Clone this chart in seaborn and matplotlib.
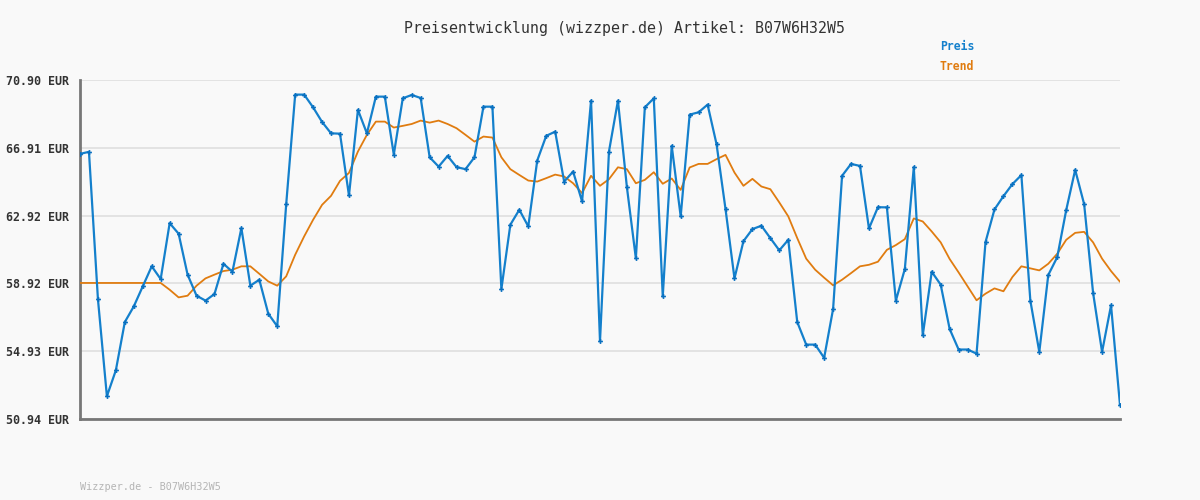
import seaborn as sns
import pandas as pd
import matplotlib.pyplot as plt

# Preise (117 Messpunkte)
preis = [66.55, 66.67, 58.00, 52.28, 53.81, 56.65, 57.57, 58.75, 59.93, 59.18,
         62.47, 61.85, 59.44, 58.20, 57.91, 58.30, 60.08, 59.61, 62.18, 58.79,
         59.14, 57.14, 56.40, 63.59, 70.04, 70.04, 69.29, 68.43, 67.76, 67.74,
         64.10, 69.14, 67.76, 69.92, 69.92, 66.51, 69.82, 70.02, 69.84, 66.35,
         65.80, 66.43, 65.77, 65.65, 66.35, 69.33, 69.33, 58.59, 62.38, 63.26,
         62.28, 66.16, 67.61, 67.86, 64.92, 65.51, 63.75, 69.68, 55.52, 66.69,
         69.68, 64.59, 60.40, 69.29, 69.82, 58.16, 67.02, 62.87, 68.86, 69.00,
         69.45, 67.12, 63.30, 59.22, 61.41, 62.12, 62.32, 61.59, 60.87, 61.49,
         56.65, 55.32, 55.32, 54.54, 57.42, 65.26, 65.96, 65.84, 62.16, 63.41,
         63.40, 57.91, 59.77, 65.77, 55.87, 59.61, 58.85, 56.24, 55.03, 55.03,
         54.79, 61.36, 63.28, 64.06, 64.77, 65.30, 57.91, 54.89, 59.42, 60.47,
         63.24, 65.61, 63.59, 58.36, 54.89, 57.63, 51.75]

trend = [58.95, 58.95, 58.95, 58.95, 58.95, 58.95, 58.95, 58.95, 58.95, 58.95,
         58.55, 58.10, 58.20, 58.79, 59.22, 59.44, 59.65, 59.73, 59.93, 59.93,
         59.49, 59.04, 58.79, 59.34, 60.61, 61.69, 62.67, 63.55, 64.08, 64.96,
         65.43, 66.69, 67.67, 68.45, 68.45, 68.10, 68.20, 68.31, 68.51, 68.39,
         68.51, 68.31, 68.06, 67.67, 67.27, 67.57, 67.51, 66.35, 65.65, 65.31,
         64.98, 64.92, 65.12, 65.33, 65.22, 64.82, 64.24, 65.26, 64.67, 65.06,
         65.76, 65.65, 64.82, 65.02, 65.47, 64.79, 65.10, 64.43, 65.75, 65.96,
         65.96, 66.24, 66.49, 65.45, 64.67, 65.08, 64.63, 64.47, 63.69, 62.87,
         61.59, 60.38, 59.73, 59.26, 58.81, 59.14, 59.53, 59.93, 60.02, 60.20,
         60.90, 61.18, 61.53, 62.75, 62.57, 61.98, 61.34, 60.36, 59.57, 58.75,
         57.93, 58.32, 58.63, 58.46, 59.30, 59.93, 59.81, 59.69, 60.08, 60.67,
         61.49, 61.90, 61.96, 61.34, 60.38, 59.65, 59.02]

y_ticks = [50.94, 54.93, 58.92, 62.92, 66.91, 70.90]
titel = "Preisentwicklung (wizzper.de) Artikel: B07W6H32W5"
fusszeile = "Wizzper.de - B07W6H32W5"

blau = "#1480cc"
orange = "#e07c10"
bg = "#f9f9f9"

df = pd.DataFrame({"tag": range(len(preis)), "Preis": preis, "Trend": trend})

sns.set_theme(style="white")
plt.rcParams['font.family'] = ['DejaVu Sans Mono', 'DejaVu Sans']

fig = plt.figure(figsize=(12, 5), dpi=100, facecolor=bg)
ax = fig.add_axes([80 / 1200, 81 / 500, 1040 / 1200, 339 / 500])
ax.set_facecolor(bg)

sns.lineplot(data=df, x="tag", y="Trend", ax=ax, color=orange, linewidth=1.3, zorder=3)
sns.lineplot(data=df, x="tag", y="Preis", ax=ax, color=blau, linewidth=1.6,
             marker="P", markersize=3.5, markeredgewidth=0, markerfacecolor="#0a70c0", zorder=4)

ax.set_xlim(0, len(preis) - 1)
ax.set_ylim(y_ticks[0], y_ticks[-1])
ax.set_yticks(y_ticks)
ax.set_yticklabels([f"{v:.2f} EUR" for v in y_ticks], fontsize=8.4, fontweight="bold", color="#333333")
ax.set_xticks([])
ax.set_xlabel("")
ax.set_ylabel("")
ax.tick_params(axis="y", length=0, pad=8)
ax.grid(axis="y", color="#e3e3e3", linewidth=1.4, zorder=0)
ax.set_axisbelow(True)

for s in ["top", "right"]:
    ax.spines[s].set_visible(False)
for s in ["left", "bottom"]:
    ax.spines[s].set_color("#777777")
    ax.spines[s].set_linewidth(2)

fig.text(624 / 1200, 1 - 28 / 500, titel, ha="center", va="center", fontsize=10.7, color="#333333")
fig.text(940 / 1200, 1 - 47 / 500, "Preis", ha="left", va="center", fontsize=8.3,
         fontweight="bold", color=blau)
fig.text(940 / 1200, 1 - 67 / 500, "Trend", ha="left", va="center", fontsize=8.3,
         fontweight="bold", color=orange)
fig.text(80 / 1200, 1 - 487 / 500, fusszeile, ha="left", va="center", fontsize=7.3, color="#b5b5b5")

fig.savefig("out.png", dpi=100, facecolor=bg)
